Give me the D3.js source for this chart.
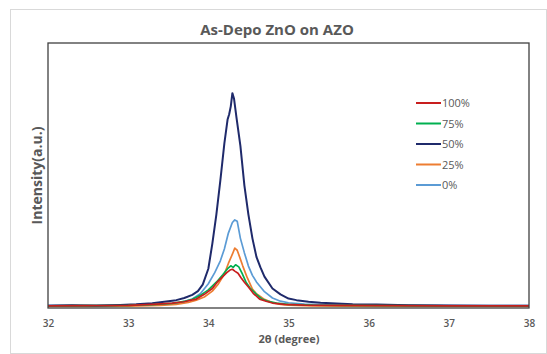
<!DOCTYPE html>
<html>
<head>
<meta charset="utf-8">
<script src="https://cdn.jsdelivr.net/npm/d3@7"></script>
<style>
  html, body { margin: 0; padding: 0; background: #fff; }
  svg { display: block; font-family: "Open Sans", "Noto Sans", sans-serif; }
</style>
</head>
<body>
<div id="chart"></div>
<script>
// ── Data ──────────────────────────────────────────────────────────────────
const xTicks = [32, 33, 34, 35, 36, 37, 38]

const theta100 = [32, 32.5, 33, 33.3, 33.55, 33.7, 33.8, 33.85, 33.95, 34.05, 34.11, 34.18, 34.23, 34.27, 34.3, 34.33, 34.37, 34.41, 34.45, 34.5, 34.56, 34.64, 34.72, 34.8, 34.95, 35.2, 35.6, 36.3, 37, 38]
const int100 = [0.4, 0.5, 0.6, 1.0, 1.5, 2.0, 2.7, 3.0, 4.8, 7.0, 9.4, 11.5, 13.0, 14.0, 14.3, 13.6, 12.8, 11.0, 9.4, 7.6, 5.2, 3.0, 2.2, 1.5, 1.0, 0.7, 0.6, 0.5, 0.4, 0.4]

const theta75 = [32, 32.5, 33, 33.3, 33.55, 33.7, 33.8, 33.9, 34.0, 34.1, 34.18, 34.24, 34.28, 34.31, 34.34, 34.38, 34.42, 34.47, 34.52, 34.6, 34.67, 34.75, 34.85, 35.0, 35.3, 35.7, 36.3, 37, 38]
const int75 = [0.4, 0.5, 0.6, 0.9, 1.4, 2.1, 2.9, 4.4, 6.5, 9.4, 12.2, 14.5, 15.6, 15.0, 16.0, 15.2, 12.8, 9.4, 7.2, 4.8, 3.0, 2.1, 1.5, 1.0, 0.7, 0.6, 0.5, 0.4, 0.4]

const theta50 = [32, 32.3, 32.6, 32.9, 33.1, 33.3, 33.45, 33.6, 33.7, 33.8, 33.87, 33.93, 34.0, 34.05, 34.1, 34.15, 34.2, 34.24, 34.26, 34.28, 34.3, 34.32, 34.35, 34.4, 34.45, 34.5, 34.55, 34.6, 34.65, 34.7, 34.8, 34.9, 35.0, 35.1, 35.25, 35.4, 35.6, 35.8, 36.1, 36.5, 37.0, 37.5, 38]
const int50 = [0.5, 0.7, 0.5, 0.8, 1.0, 1.4, 2.0, 2.6, 3.4, 4.6, 6.0, 8.5, 14.5, 24, 35, 48, 62, 71, 73, 76, 81, 79, 72, 61, 46, 35, 26, 19, 15, 11.5, 7, 4.8, 3.2, 2.6, 2.0, 1.6, 1.3, 1.0, 0.9, 0.7, 0.6, 0.5, 0.5]

const theta25 = [32, 32.5, 33, 33.4, 33.6, 33.75, 33.85, 33.95, 34.05, 34.12, 34.2, 34.25, 34.3, 34.33, 34.36, 34.39, 34.43, 34.48, 34.55, 34.6, 34.7, 34.8, 34.9, 35.0, 35.3, 35.7, 36.2, 37, 38]
const int25 = [0.2, 0.2, 0.3, 0.6, 1.0, 1.7, 2.6, 3.8, 6.0, 8.5, 12.5, 16.5, 20, 22.3, 21.5, 19, 15.5, 11.5, 6.8, 5.0, 2.9, 1.6, 1.0, 0.7, 0.4, 0.3, 0.2, 0.2, 0.2]

const theta0 = [32, 32.4, 32.8, 33.2, 33.5, 33.65, 33.8, 33.9, 34.0, 34.08, 34.15, 34.2, 34.25, 34.3, 34.33, 34.36, 34.4, 34.45, 34.5, 34.55, 34.6, 34.7, 34.8, 34.9, 35.0, 35.2, 35.5, 36, 36.5, 37, 37.5, 38]
const int0 = [0.6, 0.5, 0.7, 0.8, 1.1, 1.7, 3.0, 5.0, 8.8, 13, 17.5, 22, 28, 32, 33, 32.5, 26, 20.5, 15.5, 12, 9.5, 5.8, 3.4, 2.2, 1.6, 1.1, 0.8, 0.6, 0.6, 0.5, 0.5, 0.5]

const seriesNames = ['100%', '75%', '50%', '25%', '0%']
const seriesColors = ['#c81e1e', '#00b050', '#1f2a6b', '#ed7d31', '#5b9bd5']
const seriesX = [theta100, theta75, theta50, theta25, theta0]
const seriesY = [int100, int75, int50, int25, int0]

// ── Layout ────────────────────────────────────────────────────────────────
const W = 547, H = 354
const PLOT = { left: 48, right: 529, top: 43, bottom: 308 }
const TEXT = '#595959'

const svg = d3.select('#chart').append('svg').attr('width', W).attr('height', H)

// outer chart border
svg.append('rect')
  .attr('x', 10.5).attr('y', 9.5)
  .attr('width', W - 11).attr('height', H - 10)
  .attr('fill', '#fff').attr('stroke', '#d9d9d9').attr('stroke-width', 1)

const x = d3.scaleLinear().domain([32, 38]).range([PLOT.left, PLOT.right])
const y = d3.scaleLinear().domain([0, 100]).range([PLOT.bottom - 1, PLOT.top])

// ── Lines ─────────────────────────────────────────────────────────────────
const line = d3.line().x(d => x(d[0])).y(d => y(d[1]))
const drawOrder = [4, 3, 2, 1, 0]
drawOrder.forEach(i => {
  const pts = d3.zip(seriesX[i], seriesY[i])
  svg.append('path')
    .datum(pts)
    .attr('d', line)
    .attr('fill', 'none')
    .attr('stroke', seriesColors[i])
    .attr('stroke-width', i === 2 ? 2 : 1.7)
    .attr('stroke-linejoin', 'round')
})

// plot frame
svg.append('rect')
  .attr('x', PLOT.left).attr('y', PLOT.top)
  .attr('width', PLOT.right - PLOT.left).attr('height', PLOT.bottom - PLOT.top)
  .attr('fill', 'none').attr('stroke', '#404040').attr('stroke-width', 1.3)

// ── X axis ────────────────────────────────────────────────────────────────
const xAxis = d3.axisBottom(x).tickValues(xTicks).tickSize(0).tickPadding(12).tickFormat(d3.format('d'))
const gx = svg.append('g').attr('transform', `translate(0,${PLOT.bottom})`).call(xAxis)
gx.select('.domain').remove()
gx.selectAll('text')
  .attr('fill', TEXT).style('font-size', '10px').style('font-weight', '600')
  .attr('font-family', '"Open Sans", sans-serif')

svg.append('text')
  .attr('x', 289).attr('y', 343)
  .attr('text-anchor', 'middle').attr('fill', TEXT)
  .style('font-size', '11px').style('font-weight', 'bold')
  .text('2θ (degree)')

svg.append('text')
  .attr('transform', `translate(42,${(PLOT.top + PLOT.bottom) / 2}) rotate(-90)`)
  .attr('text-anchor', 'middle').attr('fill', TEXT)
  .style('font-size', '14px').style('font-weight', 'bold')
  .text('Intensity(a.u.)')

// ── Title ─────────────────────────────────────────────────────────────────
svg.append('text')
  .attr('x', 277).attr('y', 35)
  .attr('text-anchor', 'middle').attr('fill', TEXT)
  .style('font-size', '15px').style('font-weight', 'bold')
  .text('As-Depo ZnO on AZO')

// ── Legend ────────────────────────────────────────────────────────────────
const legend = svg.append('g').attr('transform', 'translate(416,103)')
seriesNames.forEach((name, i) => {
  const ly = i * 20.5
  legend.append('line')
    .attr('x1', 0).attr('x2', 25).attr('y1', ly).attr('y2', ly)
    .attr('stroke', seriesColors[i]).attr('stroke-width', 2)
  legend.append('text')
    .attr('x', 26).attr('y', ly + 4)
    .attr('fill', TEXT).style('font-size', '11px')
    .text(name)
})
</script>
</body>
</html>
